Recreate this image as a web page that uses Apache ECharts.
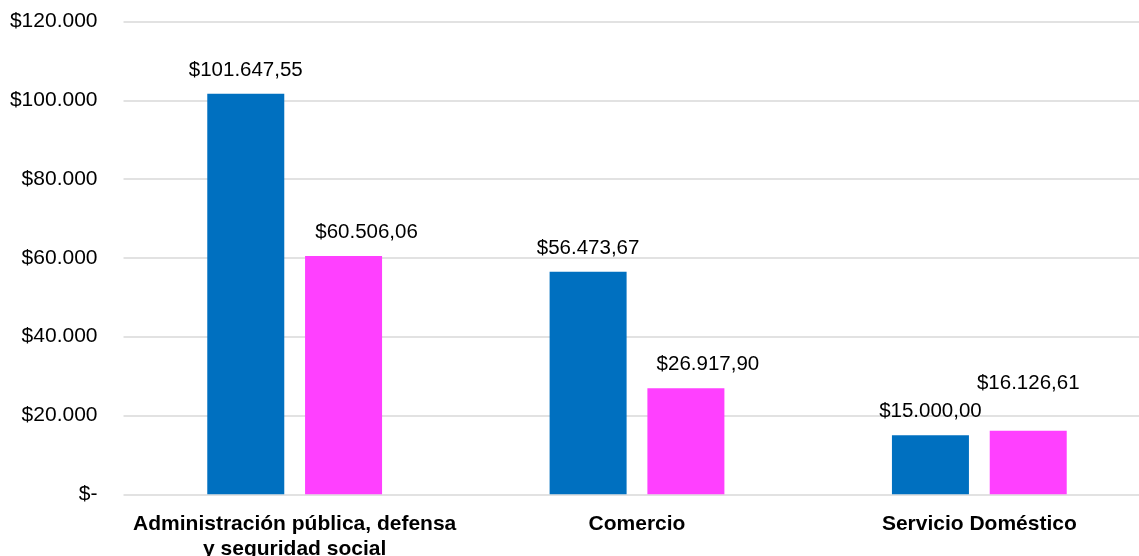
<!DOCTYPE html>
<html>
<head>
<meta charset="utf-8">
<script src="https://cdn.jsdelivr.net/npm/echarts@6/dist/echarts.min.js"></script>
<style>
html,body{margin:0;padding:0;background:#fff;}
#chart{width:1139px;height:556px;}
</style>
</head>
<body>
<div id="chart"></div>
<script>
const categories = ["Administración pública, defensa\ny seguridad social", "Comercio", "Servicio Doméstico"];
const seriesA = [101647.55, 56473.67, 15000.00];
const seriesB = [60506.06, 26917.90, 16126.61];
const yTicks = [0, 20000, 40000, 60000, 80000, 100000, 120000];

const FONT = '"Liberation Sans", Arial, Helvetica, sans-serif';

function fmtThousands(n) {
  return String(n).replace(/\B(?=(\d{3})+(?!\d))/g, '.');
}
function fmtMoney(v) {
  const fixed = v.toFixed(2).split('.');
  return '$' + fmtThousands(fixed[0]) + ',' + fixed[1];
}
function fmtAxis(v) {
  return v === 0 ? '$-' : '$' + fmtThousands(Math.round(v));
}

// label nudges as seen in the reference (style only)
const labelOffsetsB = [[23, 0], [22, 0], [0, -24]];

const labelBase = {
  show: true,
  position: 'top',
  distance: 13,
  fontFamily: FONT,
  fontSize: 20.5,
  color: '#000',
  formatter: p => fmtMoney(p.value)
};

const chart = echarts.init(document.getElementById('chart'), null, {renderer: 'canvas'});
chart.setOption({
  animation: false,
  backgroundColor: '#fff',
  textStyle: {fontFamily: FONT},
  grid: {left: 123.5, width: 1027, top: 21.5, bottom: 61.7, containLabel: false, outerBoundsMode: 'none'},
  xAxis: {
    type: 'category',
    data: categories,
    axisLine: {show: false},
    axisTick: {show: false},
    axisLabel: {
      fontFamily: FONT,
      fontSize: 21,
      fontWeight: 'bold',
      color: '#000',
      margin: 17,
      lineHeight: 25,
      interval: 0
    }
  },
  yAxis: {
    type: 'value',
    min: yTicks[0],
    max: yTicks[yTicks.length - 1],
    interval: yTicks[1] - yTicks[0],
    axisLine: {show: false},
    axisTick: {show: false},
    splitLine: {show: true, lineStyle: {color: '#d9d9d9', width: 1.5}},
    axisLabel: {
      fontFamily: FONT,
      fontSize: 21,
      color: '#000',
      margin: 26,
      formatter: fmtAxis
    }
  },
  series: [
    {
      type: 'bar',
      data: seriesA,
      barWidth: 77,
      barGap: '27%',
      itemStyle: {color: '#0070C0'},
      label: labelBase
    },
    {
      type: 'bar',
      data: seriesB.map((v, i) => ({value: v, label: {offset: labelOffsetsB[i]}})),
      barWidth: 77,
      itemStyle: {color: '#FF40FF'},
      label: labelBase
    }
  ]
});
</script>
</body>
</html>
